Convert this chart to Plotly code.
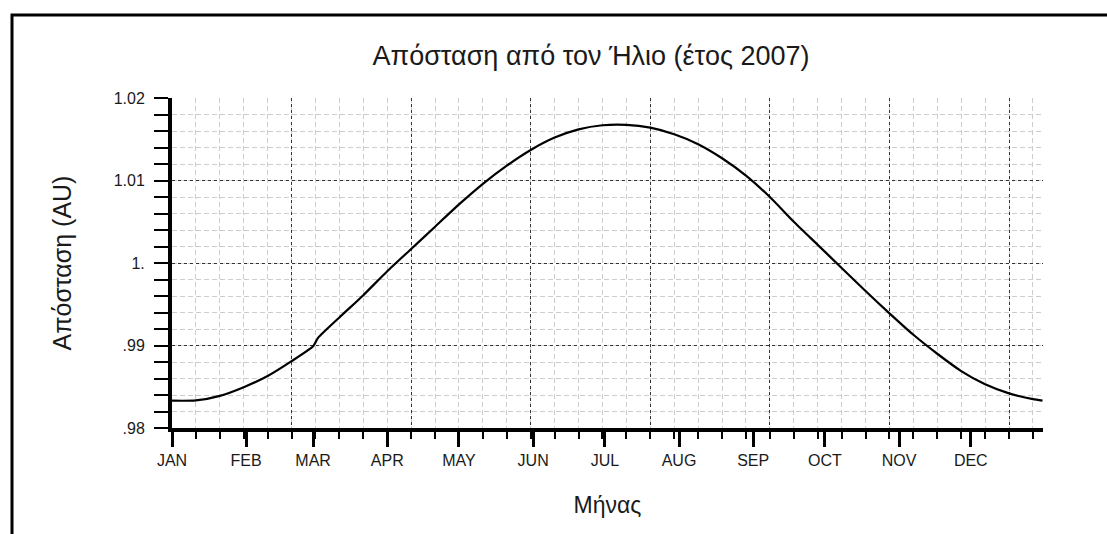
import plotly.graph_objects as go

# ---- data ----
day_of_year = [0, 10, 20, 30, 40, 50, 59, 61, 70, 80, 90, 100, 110, 120, 130, 140, 150,
               160, 170, 180, 190, 200, 210, 220, 230, 240, 250, 260, 270, 280, 290,
               300, 310, 320, 330, 340, 350, 360, 364]
distance_au = [0.98331, 0.98334, 0.98390, 0.98495, 0.98630, 0.98810, 0.98990, 0.99090,
               0.99340, 0.99610, 0.99900, 1.00170, 1.00440, 1.00710, 1.00960, 1.01180,
               1.01370, 1.01520, 1.01620, 1.01670, 1.01675, 1.01640, 1.01560, 1.01440,
               1.01270, 1.01060, 1.00800, 1.00500, 1.00220, 0.99940, 0.99660, 0.99390,
               0.99130, 0.98900, 0.98690, 0.98530, 0.98420, 0.98350, 0.98332]

month_start_days = [0, 31, 59, 90, 120, 151, 181, 212, 243, 273, 304, 334]
month_labels = ["JAN", "FEB", "MAR", "APR", "MAY", "JUN", "JUL", "AUG", "SEP", "OCT", "NOV", "DEC"]
grid_days = [0, 50, 100, 150, 200, 250, 300, 350]
y_tick_vals = [0.98, 0.99, 1.00, 1.01, 1.02]
y_tick_text = [".98", ".99", "1.", "1.01", "1.02"]

title_text = "Απόσταση από τον Ήλιο (έτος 2007)"
x_title = "Μήνας"
y_title = "Απόσταση (AU)"

# ---- layout constants ----
W, H = 1107, 534
L, R, T, B = 172, 64, 98, 106
FONT = "Liberation Sans"
TXT = "#1a1a1a"
DARK_GRID = "#333333"
LIGHT_GRID = "#cccccc"
X_RANGE = [0, 364.2]

fig = go.Figure()
fig.add_trace(go.Scatter(x=day_of_year, y=distance_au, mode="lines",
                         line=dict(color="black", width=2.2, shape="spline", smoothing=0.6),
                         showlegend=False, hoverinfo="skip"))
# invisible trace to carry the overlay grid axis
fig.add_trace(go.Scatter(x=[], y=[], xaxis="x2", yaxis="y", showlegend=False,
                         hoverinfo="skip"))

fig.update_layout(
    width=W, height=H,
    margin=dict(l=L, r=R, t=T, b=B, pad=0),
    paper_bgcolor="white", plot_bgcolor="white",
    font=dict(family=FONT, color=TXT),
    title=dict(text=title_text, x=591 / W, xanchor="center", xref="container",
               y=1 - 56 / H, yref="container", yanchor="middle",
               font=dict(family=FONT, size=27, color=TXT)),
    xaxis=dict(
        range=X_RANGE, tickmode="array", tickvals=month_start_days, ticktext=month_labels,
        showgrid=False, zeroline=False,
        showline=True, linecolor="black", linewidth=4,
        ticks="outside", ticklen=15, tickwidth=3, tickcolor="black",
        tickfont=dict(family=FONT, size=16, color=TXT),
        minor=dict(tickmode="linear", tick0=0, dtick=10, ticks="outside",
                   ticklen=7, tickwidth=2, tickcolor="black", showgrid=False),
        title=dict(text=x_title, font=dict(family=FONT, size=23, color=TXT), standoff=30),
    ),
    xaxis2=dict(
        range=X_RANGE, overlaying="x", side="bottom", tickmode="array", tickvals=grid_days,
        showticklabels=False, ticks="", showline=False, zeroline=False,
        showgrid=True, gridcolor=DARK_GRID, gridwidth=1, griddash="3px,3px",
        minor=dict(tickmode="linear", tick0=0, dtick=10, ticks="", showgrid=True,
                   gridcolor=LIGHT_GRID, gridwidth=1, griddash="5px,3px"),
    ),
    yaxis=dict(
        range=[0.98, 1.02], tickmode="array", tickvals=y_tick_vals, ticktext=y_tick_text,
        showgrid=True, gridcolor=DARK_GRID, gridwidth=1, griddash="3px,3px",
        zeroline=False, showline=True, linecolor="black", linewidth=4,
        ticks="outside", ticklen=14, tickwidth=2, tickcolor="black",
        ticklabelstandoff=6,
        tickfont=dict(family=FONT, size=16, color=TXT),
        minor=dict(tickmode="linear", tick0=0.98, dtick=0.002, ticks="outside",
                   ticklen=14, tickwidth=2, tickcolor="black", showgrid=True,
                   gridcolor=LIGHT_GRID, gridwidth=1, griddash="5px,3px"),
        title=dict(text=y_title, font=dict(family=FONT, size=25, color=TXT), standoff=36),
    ),
)

# outer frame of the original picture
pw, ph = W - L - R, H - T - B
fx0 = (12 - L) / pw
fx1 = (W + 20 - L) / pw
fy1 = (H - B - 15) / ph
fy0 = (H - B - (H + 20)) / ph
fig.add_shape(type="rect", xref="paper", yref="paper", x0=fx0, x1=fx1, y0=fy0, y1=fy1,
              line=dict(color="black", width=3), fillcolor="rgba(0,0,0,0)", layer="above")

fig.write_html("out.html")
